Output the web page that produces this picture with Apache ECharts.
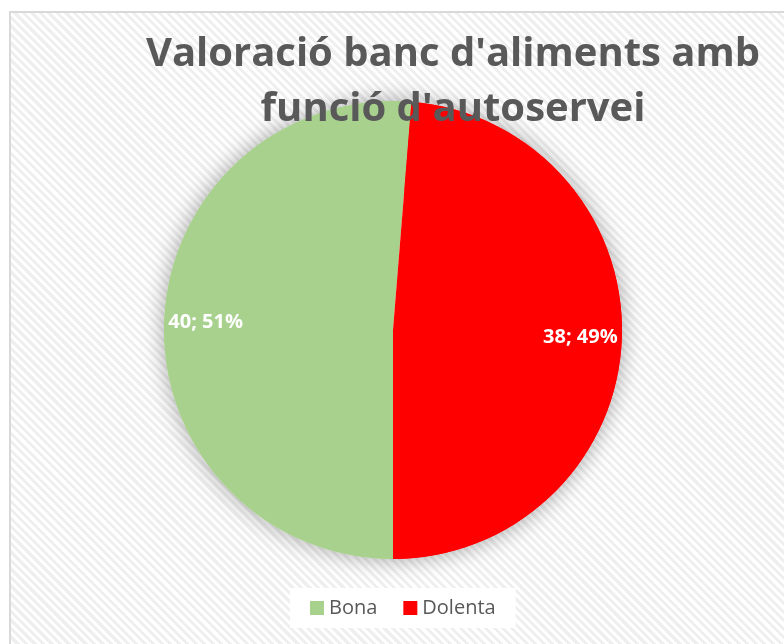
<!DOCTYPE html>
<html>
<head>
<meta charset="utf-8">
<script src="https://cdn.jsdelivr.net/npm/echarts@6/dist/echarts.min.js"></script>
<style>
	html, body { margin: 0; padding: 0; background: #fff; overflow: hidden; }
	#frame {
		position: absolute; left: 9px; top: 11px; width: 800px; height: 660px;
		border: 2px solid #d9d9d9;
		background: repeating-linear-gradient(45deg, #efefef 0px, #efefef 3px, #ffffff 3px, #ffffff 6px);
	}
	#chart { position: absolute; left: 0; top: 0; width: 784px; height: 644px; }
</style>
</head>
<body>
<div id="frame"></div>
<div id="chart"></div>
<script>
var categories = ['Bona', 'Dolenta'];
var values = [40, 38];
var colors = ['#a9d18e', '#ff0000'];

var pieData = [];
for (var i = 0; i < categories.length; i++) {
	pieData.push({ name: categories[i], value: values[i], itemStyle: { color: colors[i] } });
}

var myChart = echarts.init(document.getElementById('chart'));
var option = {
	animation: false,
	title: {
		text: "Valoració banc d'aliments amb\nfunció d'autoservei",
		left: 448,
		top: 22,
		textAlign: 'center',
		textStyle: {
			fontFamily: 'Open Sans',
			fontWeight: 'bold',
			fontSize: 40,
			lineHeight: 55,
			color: '#595959'
		}
	},
	legend: {
		data: categories,
		left: 290,
		top: 588,
		width: 225,
		padding: [10, 20, 10, 20],
		backgroundColor: '#fff',
		itemWidth: 14,
		itemHeight: 14,
		itemGap: 26,
		icon: 'rect',
		textStyle: { fontFamily: 'Open Sans', fontSize: 20, color: '#595959' }
	},
	series: [{
		// shadow disc under the pie
		type: 'pie',
		silent: true,
		center: [393, 330],
		radius: 229,
		label: { show: false },
		itemStyle: { color: '#fff', shadowBlur: 22, shadowColor: 'rgba(0,0,0,0.35)' },
		data: [{ name: '', value: 1 }]
	}, {
		type: 'pie',
		center: [393, 330],
		radius: 229,
		startAngle: -90,
		clockwise: true,
		label: { show: false },
		labelLine: { show: false },
		data: pieData
	}, {
		// labels only, placed near the rim
		type: 'pie',
		silent: true,
		center: [393, 330],
		radius: [140, 229],
		startAngle: -90,
		clockwise: true,
		percentPrecision: 0,
		itemStyle: { color: 'rgba(0,0,0,0)' },
		label: {
			show: true,
			position: 'inside',
			formatter: '{c}; {d}%',
			fontFamily: 'Open Sans',
			fontWeight: 'bold',
			fontSize: 20,
			color: '#fff'
		},
		labelLine: { show: false },
		data: pieData
	}]
};
myChart.setOption(option);
</script>
</body>
</html>
